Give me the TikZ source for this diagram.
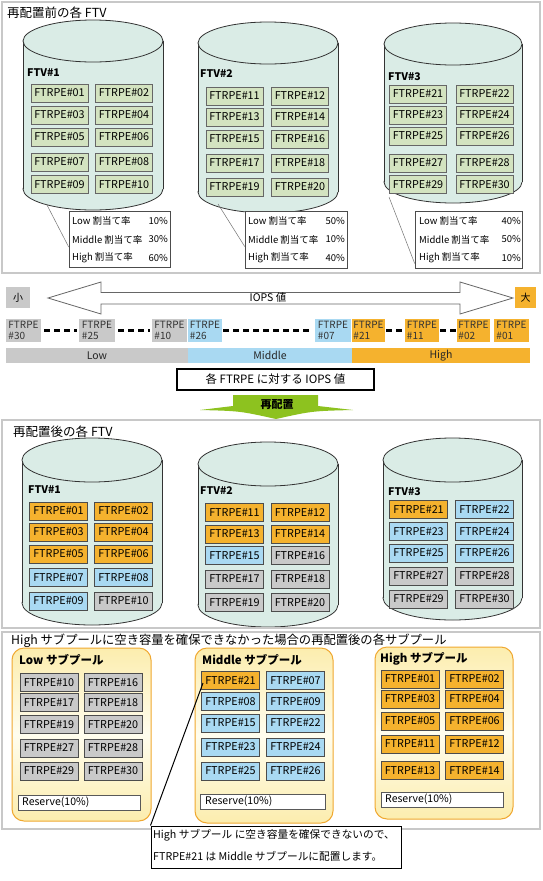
\documentclass[tikz,border=0pt]{standalone}
\usepackage{fontspec}
\setmainfont{Noto Sans CJK JP}
\usetikzlibrary{calc}
\definecolor{panelgray}{HTML}{C8C8C8}
\definecolor{cylfill}{HTML}{DAECE6}
\definecolor{boxgreen}{HTML}{D3E3C0}
\definecolor{orng}{HTML}{F5B22E}
\definecolor{lblue}{HTML}{A9D9F2}
\definecolor{lgray}{HTML}{C9C9C9}
\definecolor{poolborder}{HTML}{F0A830}
\definecolor{poolA}{HTML}{FCEDAE}
\definecolor{poolB}{HTML}{FFFDEE}
\definecolor{greenA}{HTML}{8DC21F}
\tikzset{
  panel/.style={draw=panelgray, line width=2pt},
  cylline/.style={draw=black!80, line width=0.8pt},
  fbox/.style={draw=black!60, line width=0.8pt, minimum width=57pt, minimum height=18pt, inner sep=0pt, font=\fontsize{10.8}{11}\selectfont},
  sbox/.style={fbox, minimum width=58pt, draw=black!70},
  ftv/.style={font=\bfseries\fontsize{10.5}{12}\selectfont, anchor=west, inner sep=0pt},
  ttl/.style={font=\fontsize{12.5}{14}\selectfont, anchor=west, inner sep=0pt},
  alloc/.style={draw=black!70, line width=0.6pt, fill=white, inner sep=0pt},
  atxt/.style={font=\fontsize{9.5}{11}\selectfont, inner sep=0pt},
  leader/.style={draw=black!55, line width=0.5pt},
  iops/.style={minimum height=23pt, inner sep=0pt, align=left, text=black!80, font=\fontsize{10}{11.5}\selectfont},
  dashline/.style={line width=2.6pt, dash pattern=on 6pt off 4pt},
  catbar/.style={minimum height=15pt, inner sep=0pt, font=\fontsize{10.5}{11}\selectfont, text=black!85},
  pool/.style={draw=poolborder, line width=1pt, rounded corners=12pt, top color=poolA, bottom color=poolA, middle color=poolB},
  ptitle/.style={font=\bfseries\fontsize{11.5}{13}\selectfont, anchor=west, inner sep=0pt},
  reserve/.style={draw=black!65, line width=0.8pt, fill=white, inner sep=0pt},
  rtxt/.style={font=\fontsize{10.5}{11}\selectfont, anchor=west, inner sep=0pt},
  cotxt/.style={font=\fontsize{10.7}{12}\selectfont, anchor=west, inner sep=0pt},
}
\newcommand\mycyl[5]{%
  \draw[cylline, fill=cylfill] (#1,#3) ellipse [x radius=#4, y radius=#5];
  \fill[cylfill] (#1-#4,#2) rectangle (#1+#4,#3);
  \draw[cylline] (#1-#4,#2) -- (#1-#4,#3) (#1+#4,#2) -- (#1+#4,#3);
  \draw[cylline, fill=cylfill] (#1,#2) ellipse [x radius=#4, y radius=#5];
}
\begin{document}
\begin{tikzpicture}[x=1pt, y=-1pt]
\useasboundingbox (0,0) rectangle (543,881);
\fill[white] (0,0) rectangle (543,881);

% ===== Section 1 =====
\node[ttl] (t1) at (7,13) {再配置前の各 FTV};
\mycyl{93}{41}{189}{70}{21}
\mycyl{268}{43}{192}{70}{21}
\mycyl{453}{44}{182}{69}{21}
\node[ftv] (f1) at (27,73) {FTV\#1};
\node[ftv] (f2) at (200,74) {FTV\#2};
\node[ftv] (f3) at (388,77) {FTV\#3};
\foreach \n/\x/\y in {01/59.5/93,02/124/93,03/59.5/115,04/124/115,05/59.5/137,06/124/137,07/59.5/162,08/124/162,09/59.5/184.5,10/124/184.5,
  11/234.5/96,12/300/96,13/234.5/117,14/300/117,15/234.5/139,16/300/139,17/234.5/163,18/300/163,19/234.5/187,20/300/187,
  21/418/94,22/484.5/94,23/418/115,24/484.5/115,25/418/136,26/484.5/136,27/418/163,28/484.5/163,29/418/184.5,30/484.5/184.5}
  {\node[fbox, fill=boxgreen] (a\n) at (\x,\y) {FTRPE\#\n};}

% allocation boxes
\node[alloc, minimum width=101pt, minimum height=56pt] (al1) at (119.5,239) {};
\node[alloc, minimum width=102pt, minimum height=57pt] (al2) at (296,239.5) {};
\node[alloc, minimum width=107pt, minimum height=57pt] (al3) at (468.5,239.5) {};
\foreach \b/\xl/\xr/\pa/\pb/\pc in {al1/72/168/10/30/60, al2/248/345/50/10/40, al3/419/521/40/50/10}{
  \node[atxt, anchor=west] (\b l1) at (\xl,221) {Low 割当て率};
  \node[atxt, anchor=west] (\b l2) at (\xl,239.5) {Middle 割当て率};
  \node[atxt, anchor=west] (\b l3) at (\xl,258) {High 割当て率};
  \node[atxt, anchor=east] (\b p1) at (\xr,221) {\pa\%};
  \node[atxt, anchor=east] (\b p2) at (\xr,239.5) {\pb\%};
  \node[atxt, anchor=east] (\b p3) at (\xr,258) {\pc\%};
}
\coordinate (k1) at (47,205);
\coordinate (k2) at (218,204);
\coordinate (k3) at (389,197);
\draw[leader] (k1) -- ($(al1.west)+(0,8)$);
\draw[leader] (k2) -- ($(al2.west)+(0,7)$);
\draw[leader] (k3) -- ($(al3.west)+(0,24)$);

% ===== Section 2 =====
\node[fill=lgray, minimum width=24pt, minimum height=21pt, inner sep=0pt, font=\fontsize{10}{11}\selectfont] (small) at (18,297.5) {小};
\node[fill=orng, minimum width=21pt, minimum height=21pt, inner sep=0pt, font=\fontsize{10}{11}\selectfont] (large) at (525.5,297.5) {大};
\draw[draw=black!60, line width=0.8pt, fill=white] (48,298) -- (101,282) -- (101,292.5) -- (460,292.5) -- (460,282) -- (513,298) -- (460,314) -- (460,304) -- (101,304) -- (101,314) -- cycle;
\node[font=\fontsize{10.5}{11}\selectfont, inner sep=0pt] (iopsv) at (268,298) {IOPS 値};

\node[iops, fill=lgray, minimum width=35pt] (r30) at (23.5,330.5) {FTRPE\\\#30};
\node[iops, fill=lgray, minimum width=36pt] (r25) at (97,330.5) {FTRPE\\\#25};
\node[iops, fill=lgray, minimum width=35pt] (r10) at (169.5,330.5) {FTRPE\\\#10};
\node[iops, fill=lblue, minimum width=34pt] (r26) at (205,330.5) {FTRPE\\\#26};
\node[iops, fill=lblue, minimum width=36pt] (r07) at (333,330.5) {FTRPE\\\#07};
\node[iops, fill=orng, minimum width=33pt] (r21) at (368.5,330.5) {FTRPE\\\#21};
\node[iops, fill=orng, minimum width=34pt] (r11) at (422,330.5) {FTRPE\\\#11};
\node[iops, fill=orng, minimum width=33pt] (r02) at (473.5,330.5) {FTRPE\\\#02};
\node[iops, fill=orng, minimum width=35pt] (r01) at (511.5,330.5) {FTRPE\\\#01};
\draw[dashline] ($(r30.east)+(3,0)$) -- ($(r25.west)+(-2,0)$);
\draw[dashline] ($(r25.east)+(3,0)$) -- ($(r10.west)+(-2,0)$);
\draw[dashline] ($(r26.east)+(1,0)$) -- ($(r07.west)+(-2,0)$);
\draw[dashline] ($(r21.east)+(1,0)$) -- ($(r11.west)+(-1,0)$);
\draw[dashline] ($(r11.east)+(1,0)$) -- ($(r02.west)+(-1,0)$);

\node[catbar, fill=lgray, minimum width=182pt] (cl) at (97,355.5) {Low};
\node[catbar, fill=lblue, minimum width=164pt] (cm) at (270,355.5) {Middle};
\node[catbar, fill=orng, minimum width=178pt] (ch) at (441,355.5) {High};

\node[draw=black, line width=1.4pt, minimum width=197pt, minimum height=21pt, inner sep=0pt, font=\fontsize{11.5}{12}\selectfont] (cap) at (275.5,379.5) {各 FTRPE に対する IOPS 値};

\fill[greenA] (233,395) -- (318,395) -- (318,406) -- (353,410) .. controls (312,411) .. (276,419) .. controls (240,411) .. (200,410) -- (233,406) -- cycle;
\node[font=\bfseries\fontsize{11}{12}\selectfont, inner sep=0pt] (arr) at (277,404.5) {再配置};

% ===== Section 3 =====
\node[ttl] (t3) at (13,432) {再配置後の各 FTV};
\mycyl{92}{460}{603}{70}{22}
\mycyl{268}{464}{605}{70}{22}
\mycyl{452.5}{460}{598}{69.5}{22}
\node[ftv] (g1) at (28,490) {FTV\#1};
\node[ftv] (g2) at (200,491) {FTV\#2};
\node[ftv] (g3) at (388,492) {FTV\#3};
\foreach \n/\x/\y/\c in {01/58.5/511/orng,02/123.5/511/orng,03/58.5/532/orng,04/123.5/532/orng,05/58.5/554/orng,06/123.5/554/orng,07/58.5/577.5/lblue,08/123.5/577.5/lblue,09/58.5/601/lblue,10/123.5/601/lgray,
  11/234.5/512.5/orng,12/300/512.5/orng,13/234.5/534/orng,14/300/534/orng,15/234.5/555.5/lblue,16/300/555.5/lgray,17/234.5/579/lgray,18/300/579/lgray,19/234.5/602.5/lgray,20/300/602.5/lgray,
  21/418.5/509.5/orng,22/484.5/509.5/lblue,23/418.5/531.5/lblue,24/484.5/531.5/lblue,25/418.5/553/lblue,26/484.5/553/lblue,27/418.5/576/lgray,28/484.5/576/lgray,29/418.5/599/lgray,30/484.5/599/lgray}
  {\node[sbox, fill=\c] (b\n) at (\x,\y) {FTRPE\#\n};}

% ===== Section 4 =====
\node[ttl, font=\fontsize{12.3}{14}\selectfont] (t4) at (11,641) {High サブプールに空き容量を確保できなかった場合の再配置後の各サブプール};
\draw[pool] (12,648) rectangle (151,821);
\draw[pool] (195,648) rectangle (333,823);
\draw[pool] (375,647) rectangle (513,819);
\node[ptitle] (pl) at (19,660) {Low サブプール};
\node[ptitle] (pm) at (202,660) {Middle サブプール};
\node[ptitle] (ph) at (380,659) {High サブプール};
\foreach \n/\x/\y/\c in {10/49/682.5/lgray,16/113/682.5/lgray,17/49/702.5/lgray,18/113/702.5/lgray,19/49/724.5/lgray,20/113/724.5/lgray,27/49/748/lgray,28/113/748/lgray,29/49/771/lgray,30/113/771/lgray}
  {\node[sbox, fill=\c] (l\n) at (\x,\y) {FTRPE\#\n};}
\foreach \n/\x/\y/\c in {21/230.5/680.5/orng,07/295.5/680.5/lblue,08/230.5/701.5/lblue,09/295.5/701.5/lblue,15/230.5/723/lblue,22/295.5/723/lblue,23/230.5/747/lblue,24/295.5/747/lblue,25/230.5/771/lblue,26/295.5/771/lblue}
  {\node[sbox, fill=\c] (m\n) at (\x,\y) {FTRPE\#\n};}
\foreach \n/\x/\y/\c in {01/410/679/orng,02/474.5/679/orng,03/410/699/orng,04/474.5/699/orng,05/410/721/orng,06/474.5/721/orng,11/410/744/orng,12/474.5/744/orng,13/410/770.5/orng,14/474.5/770.5/orng}
  {\node[sbox, fill=\c] (h\n) at (\x,\y) {FTRPE\#\n};}
\node[reserve, minimum width=122pt, minimum height=15pt] (rl) at (79,802.5) {};
\node[reserve, minimum width=125pt, minimum height=15pt] (rm) at (262.5,801.5) {};
\node[reserve, minimum width=122pt, minimum height=15pt] (rh) at (442,799.5) {};
\node[rtxt] (rlt) at (22,802.5) {Reserve(10\%)};
\node[rtxt] (rmt) at (205,801.5) {Reserve(10\%)};
\node[rtxt] (rht) at (385,799.5) {Reserve(10\%)};

% panels
\draw[panel] (2,2) rectangle (540,273);
\draw[panel] (2,420) rectangle (540,628);
\draw[panel] (2,632) rectangle (540,829);

% callout
\node[draw=black, line width=1pt, fill=white, minimum width=250pt, minimum height=42pt, inner sep=0pt] (co) at (276,847) {};
\node[cotxt] (co1) at (153,835) {High サブプール に空き容量を確保できないので、};
\node[cotxt] (co2) at (153,856) {FTRPE\#21 は Middle サブプールに配置します。};
\coordinate (k4) at (203,683);
\draw[black, line width=1pt] (k4) -- (co.north west);
\end{tikzpicture}
\end{document}
